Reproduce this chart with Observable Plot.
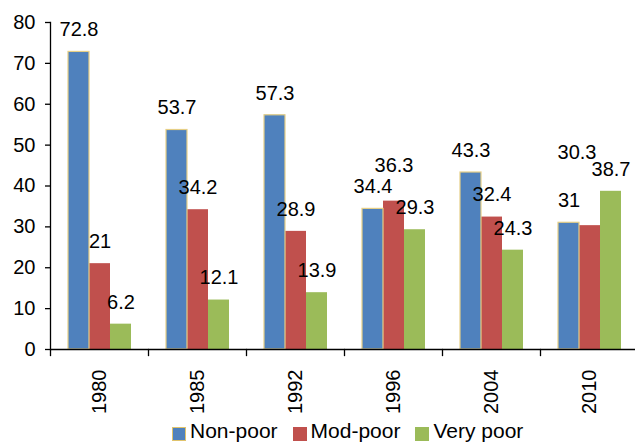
<!DOCTYPE html>
<html>
<head>
<meta charset="utf-8">
<script src="https://cdn.jsdelivr.net/npm/d3@7"></script>
<script src="https://cdn.jsdelivr.net/npm/@observablehq/plot@0.6"></script>
<style>
  html, body { margin: 0; padding: 0; background: #fff; }
  #wrap { position: relative; width: 635px; height: 444px; overflow: hidden; font-family: "Liberation Sans", Arial, sans-serif; }
  #legend { position: absolute; left: 172px; top: 419px; display: flex; align-items: center; font-size: 21px; line-height: 23px; color: #000; white-space: nowrap; }
  #legend .item { display: flex; align-items: center; margin-right: 15px; }
  #legend .sw { width: 14px; height: 14px; margin-right: 4px; position: relative; top: 3px; box-sizing: border-box; }
</style>
</head>
<body>
<div id="wrap"></div>
<script>
const years = ["1980", "1985", "1992", "1996", "2004", "2010"];
const series = ["Non-poor", "Mod-poor", "Very poor"];
const nonPoor = [72.8, 53.7, 57.3, 34.4, 43.3, 31];
const modPoor = [21, 34.2, 28.9, 36.3, 32.4, 30.3];
const veryPoor = [6.2, 12.1, 13.9, 29.3, 24.3, 38.7];
const yTicks = [0, 10, 20, 30, 40, 50, 60, 70, 80];
const colors = ["#4f81bd", "#c0504d", "#9bbb59"];

const valuesBySeries = [nonPoor, modPoor, veryPoor];
const rows = [];
years.forEach((yr, i) => series.forEach((s, j) => rows.push({year: yr, series: s, value: valuesBySeries[j][i]})));

const W = 635, H = 420, mt = 22, mb = 71, ml = 48, mr = -5;
const plotH = H - mt - mb;
const isLifted = d => (d.year === "1996" && d.series === "Mod-poor");
const isMoved = d => (d.year === "2010" && d.series === "Mod-poor");
const font = "'Liberation Sans', Arial, sans-serif";
const fs = 20;

const chart = Plot.plot({
  width: W, height: H,
  marginTop: mt, marginBottom: mb, marginLeft: ml, marginRight: mr,
  style: {fontFamily: font, fontSize: fs + "px", color: "#000", background: "transparent", overflow: "visible"},
  fx: {domain: years, padding: 0, label: null},
  x: {domain: series, paddingInner: 0, paddingOuter: 0.74, axis: null},
  y: {domain: [0, 80], label: null},
  color: {domain: series, range: colors},
  marks: [
    Plot.barY(rows, {fx: "year", x: "series", y: "value", fill: "series"}),
    Plot.barY(rows, {fx: "year", x: "series", y: "value", fill: "series", stroke: "#e6cf86", strokeWidth: 1.2, filter: d => d.series === "Non-poor"}),
    Plot.ruleY([0], {stroke: "#000", strokeWidth: 1.3}),
    Plot.frame({anchor: "left", insetTop: plotH, insetBottom: -6, stroke: "#000", strokeWidth: 1.3}),
    Plot.frame({anchor: "left", facetAnchor: "left", stroke: "#000", strokeWidth: 1.3}),
    Plot.axisY({ticks: yTicks, tickSize: 5, tickPadding: 10, fontSize: fs, stroke: "#000", strokeWidth: 1.3, label: null}),
    Plot.axisFx({anchor: "bottom", tickSize: 0, tickPadding: 20, tickRotate: -90, fontSize: fs, label: null}),
    Plot.text(rows, {fx: "year", x: "series", y: "value", text: d => String(d.value), dy: -22, fontSize: fs, fill: "#000", filter: d => !isLifted(d) && !isMoved(d)}),
    Plot.text(rows, {fx: "year", x: "series", y: "value", text: d => String(d.value), dy: -36, fontSize: fs, fill: "#000", filter: isLifted}),
    Plot.text(rows, {fx: "year", x: "series", y: "value", text: d => String(d.value), dy: -73, dx: -13, fontSize: fs, fill: "#000", filter: isMoved})
  ]
});

const wrap = document.getElementById("wrap");
wrap.appendChild(chart);

const legend = document.createElement("div");
legend.id = "legend";
series.forEach((s, j) => {
  const item = document.createElement("div");
  item.className = "item";
  const sw = document.createElement("span");
  sw.className = "sw";
  sw.style.background = colors[j];
  if (j === 0) sw.style.border = "1.5px solid #e0c36c";
  const t = document.createElement("span");
  t.textContent = s;
  item.appendChild(sw);
  item.appendChild(t);
  legend.appendChild(item);
});
wrap.appendChild(legend);
</script>
</body>
</html>
